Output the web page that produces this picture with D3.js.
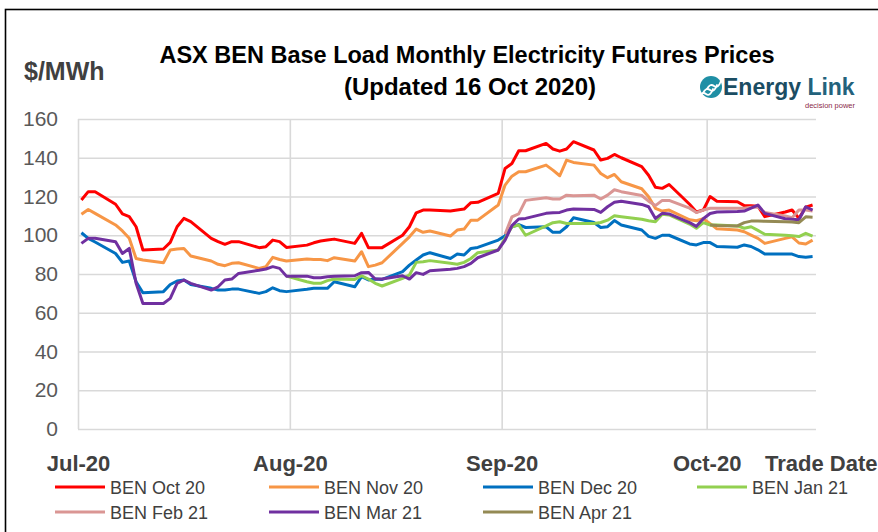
<!DOCTYPE html>
<html>
<head>
<meta charset="utf-8">
<script src="https://cdn.jsdelivr.net/npm/d3@7"></script>
<style>
  html, body { margin: 0; padding: 0; background: #fff; }
  svg { display: block; font-family: "Liberation Sans", Arial, sans-serif; }
</style>
</head>
<body>
<div class="container"></div>
<script>
const WIDTH = 878;
const HEIGHT = 532;
const PLOT = {left: 78, right: 816, top: 119, bottom: 429};

// trading days on the chart
const tradeDates = [
  "2020-07-01","2020-07-02","2020-07-03","2020-07-06","2020-07-07","2020-07-08","2020-07-09","2020-07-10",
  "2020-07-13","2020-07-14","2020-07-15","2020-07-16","2020-07-17","2020-07-20","2020-07-21","2020-07-22",
  "2020-07-23","2020-07-24","2020-07-27","2020-07-28","2020-07-29","2020-07-30","2020-07-31",
  "2020-08-03","2020-08-04","2020-08-05","2020-08-06","2020-08-07","2020-08-10","2020-08-11","2020-08-12",
  "2020-08-13","2020-08-14","2020-08-17","2020-08-18","2020-08-19","2020-08-20","2020-08-21","2020-08-24",
  "2020-08-25","2020-08-26","2020-08-27","2020-08-28","2020-08-31",
  "2020-09-01","2020-09-02","2020-09-03","2020-09-04","2020-09-07","2020-09-08","2020-09-09","2020-09-10",
  "2020-09-11","2020-09-14","2020-09-15","2020-09-16","2020-09-17","2020-09-18","2020-09-21","2020-09-22",
  "2020-09-23","2020-09-24","2020-09-25","2020-09-28","2020-09-29","2020-09-30",
  "2020-10-01","2020-10-02","2020-10-05","2020-10-06","2020-10-07","2020-10-08","2020-10-09","2020-10-12",
  "2020-10-13","2020-10-14","2020-10-15","2020-10-16"
];

// $/MWh, each series starts at its first trade date
const benOct20 = [
  118.2,122.5,122.5,116,111,109.6,104.4,92.4,92.9,96.3,104.4,108.7,107,98.4,96.7,95.3,96.7,96.7,93.6,94.1,97.5,96.7,93.7,
  94.9,96.1,97,97.5,98,95.8,101,93.6,93.6,93.6,100,104.4,111.6,113,113,112.5,113,113.5,116.8,117,121.6,
  134.5,137,143.6,143.6,147.4,144.5,143.4,144.5,148.3,144,138.8,139.7,141.7,140,135.4,131,124.8,124.2,126.2,116,112,113,
  120,117.6,117.3,115.3,115.2,115,109.6,112,113,108.7,114.5,115.6
];
const benNov20 = [
  110.8,113.3,111.3,105.3,102.2,98.4,88,87.2,85.8,92.4,92.9,93.2,89.3,86.7,85,84.3,85.5,85.8,82.9,83.8,88.6,87.5,86.7,
  87.7,87.5,87.5,86.9,88.4,86.7,91.5,83.8,84.6,85.8,95.8,99.2,103.2,101.5,102.2,99.6,102.7,103.2,107.8,107.8,115.6,
  125.9,130.5,132.8,132.8,136.2,133.6,130.7,138.8,137.6,136.2,131.9,129.7,131.4,127.6,124,119.9,113.9,112.5,113,108,107.5,108.5,
  106,103.3,102.7,101.8,100.1,98.4,95.8,98.4,99.2,96,95.5,97.5
];
const benDec20 = [
  101.3,98.4,96.5,90.6,86,86.7,76,70.3,70.9,74.6,76.4,76.9,74.6,72.6,71.7,71.7,72.2,72.2,70,70.9,72.9,71.4,70.9,
  72.1,72.6,72.6,72.6,76,73.4,78.6,76.9,77.4,77.2,81.2,84.6,87.2,89.8,91,88,90.3,89.8,93.2,93.7,97.5,
  99.8,104.4,105.5,104,104.4,101.5,101.5,104.4,109,106.6,104,104.4,107.6,105.3,102.7,99.4,98.4,100,100,95.5,95,96.2,
  96.2,94.2,93.8,95,94.2,92.5,90.3,90.3,90.3,89,88.7,89
];
const benJan21 = [
  78.9,
  76,75.2,75.2,76.6,77.4,77.2,79.1,77.4,75.2,73.8,77.7,79.5,86,86.3,86.9,85.5,85,86,88,91,92.4,
  98.4,104.4,105.3,100,104.8,106.5,107,106.1,106.1,106.1,106.6,107.8,110.1,109.6,108.3,107.5,107,110.8,110.5,105.8,103.6,106.5,
  105.3,105.3,104.8,103.6,104.4,102.5,100.5,100,99.8,99.3,101,99.6
];
const benFeb21 = [
  100.5,109.5,111,118,119.4,118.7,118.7,120.7,120.4,120.7,118.7,120.7,123.5,122.5,120.5,117.6,115.3,118,118,114,111.7,113,
  113.9,113.9,113.9,114,114.5,114.5,111.8,110,109,113,113,112.5
];
const benMar21 = [
  95.8,98.4,98.4,96.7,90.6,93.2,75.2,64.8,64.8,67.4,75.2,76.9,75.2,71.7,73.4,76.9,77.4,80.3,81.9,82.6,83.8,82.9,78.9,
  78.9,78.1,78.1,78.6,78.9,79.1,80.7,80.8,77.4,77.4,79.1,77.4,80.7,79.8,81.7,82.4,82.9,83.8,85.5,88.4,92.4,
  97.5,105,108.4,108.7,111.3,111.6,111.8,113,113.5,113.3,111.8,114.7,117,117.6,115.9,114.7,108.7,111.3,111,106.5,104.6,108.5,
  111.2,112,112.2,112.5,114,115.6,111.3,108.5,108.2,108,114.7,113
];
const benApr21 = [105.3,105,104.8,106.5,107.3,107.3,107.2,107,106.8,106.5,109.5,109.3];

const seriesNames = ["BEN Oct 20","BEN Nov 20","BEN Dec 20","BEN Jan 21","BEN Feb 21","BEN Mar 21","BEN Apr 21"];
const seriesStarts = ["2020-07-01","2020-07-01","2020-07-01","2020-07-31","2020-09-01","2020-07-01","2020-10-01"];
const seriesValues = [benOct20, benNov20, benDec20, benJan21, benFeb21, benMar21, benApr21];
const seriesColors = ["#FF0000","#F79646","#0070C0","#92D050","#DA9694","#7030A0","#948A54"];

const yTicks = [0,20,40,60,80,100,120,140,160];
const monthTicks = ["2020-07-01","2020-08-01","2020-09-01","2020-10-01"];
const axisStart = "2020-07-01", axisEnd = "2020-10-17";

const parse = d3.timeParse("%Y-%m-%d");

var svg = d3.select('.container').append('svg')
  .attr('width', WIDTH)
  .attr('height', HEIGHT);

svg.append('rect').attr('width', WIDTH).attr('height', HEIGHT).attr('fill', '#fff');
// chart border
svg.append('rect')
  .attr('x', 5.5).attr('y', 9.5).attr('width', 1000).attr('height', 1000)
  .attr('fill', 'none').attr('stroke', '#000').attr('stroke-width', 1.6);

var xScale = d3.scaleTime()
  .domain([parse(axisStart), parse(axisEnd)])
  .range([PLOT.left, PLOT.right]);

var yScale = d3.scaleLinear()
  .domain([0, 160])
  .range([PLOT.bottom, PLOT.top]);

// points sit in the middle of their day
var xDay = function(d){ return xScale(d3.timeHour.offset(d, 12)); };

var yAxis = d3.axisLeft(yScale)
  .tickValues(yTicks)
  .tickSize(-(PLOT.right - PLOT.left))
  .tickPadding(20);

var gy = svg.append('g')
  .attr('transform', 'translate(' + PLOT.left + ',0)')
  .call(yAxis);
gy.select('.domain').remove();
gy.selectAll('line').attr('stroke', '#D9D9D9').attr('stroke-width', 1.6);
gy.selectAll('text')
  .attr('fill', '#595959')
  .style('font-size', '21px')
  .style('font-family', '"Liberation Sans", Arial, sans-serif');

var xAxis = d3.axisBottom(xScale)
  .tickValues(monthTicks.map(parse))
  .tickFormat(d3.timeFormat('%b-%y'))
  .tickSize(-(PLOT.bottom - PLOT.top))
  .tickPadding(26);

var gx = svg.append('g')
  .attr('transform', 'translate(0,' + PLOT.bottom + ')')
  .call(xAxis);
gx.select('.domain').remove();
gx.selectAll('line').attr('stroke', '#D9D9D9').attr('stroke-width', 1.6);
gx.selectAll('text')
  .attr('fill', '#404040')
  .style('font-size', '22px')
  .style('font-weight', 'bold')
  .style('font-family', '"Liberation Sans", Arial, sans-serif');

svg.append('text')
  .attr('x', 765).attr('y', 471)
  .attr('fill', '#404040')
  .style('font-size', '22px').style('font-weight', 'bold')
  .text('Trade Date');

// series lines
var line = d3.line()
  .x(function(d){ return xDay(d.date); })
  .y(function(d){ return yScale(d.value); });

var series = seriesNames.map(function(name, i){
  var first = tradeDates.indexOf(seriesStarts[i]);
  return {
    name: name,
    color: seriesColors[i],
    points: seriesValues[i].map(function(v, j){
      return {date: parse(tradeDates[first + j]), value: v};
    })
  };
});

svg.append('g').selectAll('path')
  .data(series)
  .enter().append('path')
  .attr('d', function(s){ return line(s.points); })
  .attr('fill', 'none')
  .attr('stroke', function(s){ return s.color; })
  .attr('stroke-width', 3)
  .attr('stroke-linejoin', 'round');

// titles
svg.append('text')
  .attr('x', 467).attr('y', 63)
  .attr('text-anchor', 'middle')
  .style('font-size', '23.5px').style('font-weight', 'bold')
  .text('ASX BEN Base Load Monthly Electricity Futures Prices');
svg.append('text')
  .attr('x', 470).attr('y', 95)
  .attr('text-anchor', 'middle')
  .style('font-size', '24px').style('font-weight', 'bold')
  .text('(Updated 16 Oct 2020)');
svg.append('text')
  .attr('x', 24).attr('y', 80)
  .attr('fill', '#404040')
  .style('font-size', '25px').style('font-weight', 'bold')
  .text('$/MWh');

// logo
var logo = svg.append('g');
logo.append('circle').attr('cx', 711).attr('cy', 87).attr('r', 11).attr('fill', '#1F8FA5');
[-4, 0, 4].forEach(function(o){
  logo.append('path')
    .attr('d', 'M' + (703 + o) + ',' + (93 - o) + ' q3,-6 7,-3 t7,-5')
    .attr('fill', 'none').attr('stroke', '#fff').attr('stroke-width', 1.8)
    .attr('stroke-linecap', 'round');
});
var logoText = logo.append('text')
  .attr('x', 723).attr('y', 95)
  .style('font-size', '23px').style('font-weight', 'bold');
logoText.append('tspan').attr('fill', '#1B4D63').text('Energy ');
logoText.append('tspan').attr('fill', '#23627C').text('Link');
logo.append('text')
  .attr('x', 855).attr('y', 108)
  .attr('text-anchor', 'end')
  .attr('fill', '#8B2A4A')
  .style('font-size', '7.5px')
  .text('decision power');

// legend
var legend = svg.append('g').selectAll('g')
  .data(series)
  .enter().append('g')
  .attr('transform', function(s, i){
    return 'translate(' + (55 + (i % 4) * 214) + ',' + (487 + Math.floor(i / 4) * 25) + ')';
  });
legend.append('line')
  .attr('x1', 0).attr('x2', 50)
  .attr('stroke', function(s){ return s.color; })
  .attr('stroke-width', 3);
legend.append('text')
  .attr('x', 55).attr('y', 6.5)
  .attr('fill', '#404040')
  .style('font-size', '18px')
  .text(function(s){ return s.name; });
</script>
</body>
</html>
